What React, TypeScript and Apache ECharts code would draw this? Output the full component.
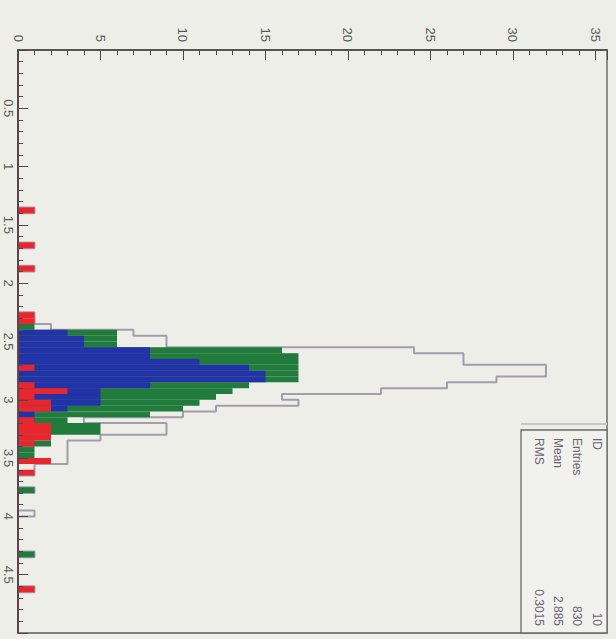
import React, { useEffect, useRef } from "react";
import * as echarts from "echarts";

// Histogram binning (rotated ROOT/PAW plot): 100 bins from 0 to 5
const BIN_LOW = 0;
const BIN_HIGH = 5;
const BIN_COUNT = 100;

// Total (white-filled, grey outline) histogram
const TOTAL = [
  0, 0, 0, 0, 0, 0, 0, 0, 0, 0,
  0, 0, 0, 0, 0, 0, 0, 0, 0, 0,
  0, 0, 0, 0, 0, 0, 0, 1, 0, 0,
  0, 0, 0, 1, 0, 0, 0, 1, 0, 0,
  0, 0, 0, 0, 0, 1, 1, 2, 7, 9,
  9, 24, 27, 27, 32, 32, 29, 26, 22, 16,
  17, 12, 10, 4, 9, 9, 5, 3, 3, 3,
  3, 1, 1, 0, 0, 1, 0, 0, 0, 1,
  0, 0, 0, 0, 0, 0, 1, 0, 0, 0,
  0, 0, 1, 0, 0, 0, 0, 0, 0, 0,
];

const GREEN = [
  0, 0, 0, 0, 0, 0, 0, 0, 0, 0,
  0, 0, 0, 0, 0, 0, 0, 0, 0, 0,
  0, 0, 0, 0, 0, 0, 0, 0, 0, 0,
  0, 0, 0, 0, 0, 0, 0, 0, 0, 0,
  0, 0, 0, 0, 0, 0, 0, 1, 6, 6,
  6, 16, 17, 17, 17, 17, 17, 14, 13, 12,
  11, 10, 8, 3, 5, 5, 1, 2, 1, 1,
  0, 0, 0, 0, 0, 1, 0, 0, 0, 0,
  0, 0, 0, 0, 0, 0, 1, 0, 0, 0,
  0, 0, 0, 0, 0, 0, 0, 0, 0, 0,
];

const BLUE = [
  0, 0, 0, 0, 0, 0, 0, 0, 0, 0,
  0, 0, 0, 0, 0, 0, 0, 0, 0, 0,
  0, 0, 0, 0, 0, 0, 0, 0, 0, 0,
  0, 0, 0, 0, 0, 0, 0, 0, 0, 0,
  0, 0, 0, 0, 0, 0, 0, 0, 3, 4,
  4, 8, 8, 11, 14, 15, 15, 8, 5, 5,
  5, 3, 1, 1, 0, 0, 0, 0, 0, 0,
  0, 0, 0, 0, 0, 0, 0, 0, 0, 0,
  0, 0, 0, 0, 0, 0, 0, 0, 0, 0,
  0, 0, 0, 0, 0, 0, 0, 0, 0, 0,
];

const RED = [
  0, 0, 0, 0, 0, 0, 0, 0, 0, 0,
  0, 0, 0, 0, 0, 0, 0, 0, 0, 0,
  0, 0, 0, 0, 0, 0, 0, 1, 0, 0,
  0, 0, 0, 1, 0, 0, 0, 1, 0, 0,
  0, 0, 0, 0, 0, 1, 1, 0, 0, 0,
  0, 0, 0, 0, 1, 0, 0, 1, 3, 1,
  2, 2, 0, 1, 2, 2, 2, 1, 0, 0,
  2, 0, 1, 0, 0, 0, 0, 0, 0, 0,
  0, 0, 0, 0, 0, 0, 0, 0, 0, 0,
  0, 0, 1, 0, 0, 0, 0, 0, 0, 0,
];

const STAT_NAMES = ["ID", "Entries", "Mean", "RMS"];
const STAT_VALUES = ["10", "830", "2.885", "0.3015"];

const BIN_WIDTH = (BIN_HIGH - BIN_LOW) / BIN_COUNT;
const BIN_CENTERS = TOTAL.map((_, i) => (BIN_LOW + (i + 0.5) * BIN_WIDTH).toFixed(3));

const BG = "#eeeee9";
const FONT = "Liberation Sans";

function barSeries(name: string, data: number[], color: string, z: number) {
  return {
    name,
    type: "bar",
    yAxisIndex: 0,
    data,
    barWidth: "100%",
    barGap: "-100%",
    barCategoryGap: "0%",
    itemStyle: { color, borderColor: color, borderWidth: 1.4 },
    z,
  };
}

export default function App() {
  const ref = useRef<HTMLDivElement>(null);
  useEffect(() => {
    if (!ref.current) return;
    const chart = echarts.init(ref.current, null, { renderer: "svg" });
    const axisColor = "#4a4a4a";
    const labelColor = "#5a5a5a";
    const statX = [597, 577, 558, 539];
    const graphics: any[] = [
      {
        type: "line",
        shape: { x1: 521, y1: 424, x2: 607, y2: 424 },
        style: { stroke: "#c8c6cc", lineWidth: 2 },
      },
      {
        type: "rect",
        shape: { x: 521, y: 430, width: 86, height: 203 },
        style: { fill: "#f1f1ed", stroke: "#6a6a6a", lineWidth: 1.3 },
      },
    ];
    STAT_NAMES.forEach((name, k) => {
      graphics.push({
        type: "text",
        x: statX[k],
        y: 438,
        rotation: -Math.PI / 2,
        style: {
          text: name,
          fill: "#6c6474",
          font: `12px "${FONT}"`,
          align: "left",
          verticalAlign: "middle",
          textAlign: "left",
          textVerticalAlign: "middle",
        },
      });
      graphics.push({
        type: "text",
        x: statX[k],
        y: 626,
        rotation: -Math.PI / 2,
        style: {
          text: STAT_VALUES[k],
          fill: "#6c6474",
          font: `12px "${FONT}"`,
          align: "right",
          verticalAlign: "middle",
          textAlign: "right",
          textVerticalAlign: "middle",
        },
      });
    });

    chart.setOption({
      animation: false,
      backgroundColor: BG,
      grid: {
        left: 18,
        top: 50,
        right: 9,
        bottom: 6,
        show: true,
        borderColor: "#5a5a5a",
        borderWidth: 1.3,
        backgroundColor: "transparent",
      },
      xAxis: {
        type: "value",
        position: "top",
        min: 0,
        max: 35.7,
        interval: 5,
        z: 10,
        axisLine: { show: true, lineStyle: { color: axisColor, width: 1.5 } },
        axisTick: { show: true, inside: true, length: 10, lineStyle: { color: axisColor } },
        minorTick: { show: true, splitNumber: 5, length: 5, lineStyle: { color: axisColor } },
        splitLine: { show: false },
        minorSplitLine: { show: false },
        axisLabel: {
          rotate: -90,
          margin: 8,
          fontSize: 13,
          fontFamily: FONT,
          color: labelColor,
          formatter: (v: number) => (Math.abs(v % 5) < 1e-9 ? String(v) : ""),
        },
      },
      yAxis: [
        {
          type: "category",
          inverse: true,
          data: BIN_CENTERS,
          show: false,
        },
        {
          type: "value",
          inverse: true,
          position: "left",
          min: BIN_LOW,
          max: BIN_HIGH,
          interval: 0.5,
          z: 10,
          axisLine: { show: true, lineStyle: { color: axisColor, width: 1.5 } },
          axisTick: { show: true, inside: true, length: 10, lineStyle: { color: axisColor } },
          minorTick: { show: true, splitNumber: 5, length: 5, lineStyle: { color: axisColor } },
          splitLine: { show: false },
          minorSplitLine: { show: false },
          axisLabel: {
            rotate: -90,
            margin: 3,
            fontSize: 13,
            fontFamily: FONT,
            color: labelColor,
            showMinLabel: false,
            showMaxLabel: false,
            formatter: (v: number) => String(v),
          },
        },
      ],
      series: [
        {
          name: "total",
          type: "line",
          yAxisIndex: 0,
          step: "middle",
          symbol: "none",
          data: TOTAL,
          lineStyle: { color: "#a39cad", width: 2 },
          z: 2,
        },
        barSeries("green", GREEN, "#217b3d", 3),
        barSeries("blue", BLUE, "#2233a8", 4),
        barSeries("red", RED, "#e8262e", 5),
      ],
      graphic: graphics,
    });
    return () => chart.dispose();
  }, []);
  return (
    <div
      ref={ref}
      style={{ position: "fixed", left: 0, top: 0, width: 616, height: 639, background: BG }}
    />
  );
}
